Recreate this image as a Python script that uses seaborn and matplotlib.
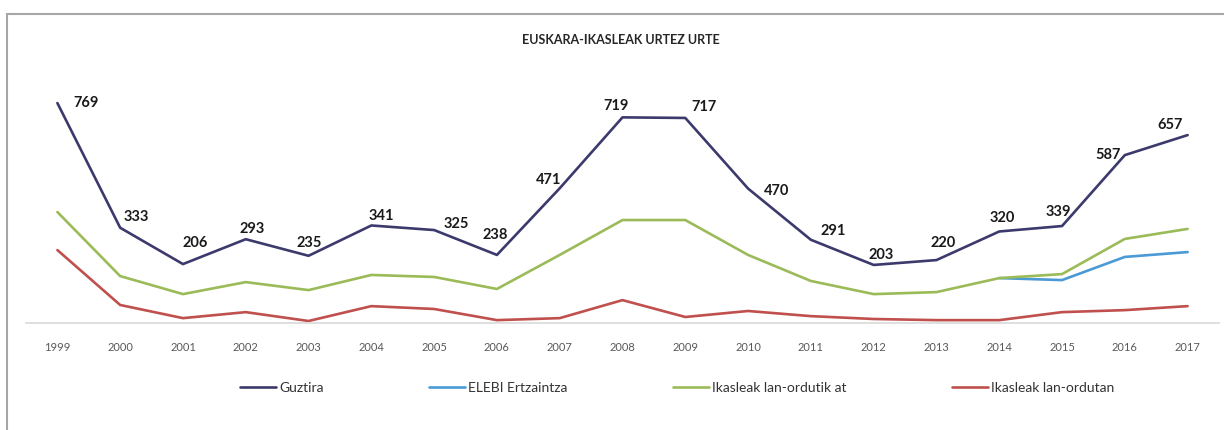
import numpy as np
import pandas as pd
import matplotlib
matplotlib.use('Agg')
import matplotlib.pyplot as plt
from matplotlib.patches import Rectangle
import seaborn as sns

years = list(range(1999, 2018))
guztira = [769, 333, 206, 293, 235, 341, 325, 238, 471, 719, 717, 470, 291, 203, 220, 320, 339, 587, 657]
elebi = [np.nan] * 15 + [157, 150, 231, 248]
lan_ordutik_at = [388, 164, 101, 143, 115, 168, 161, 119, 238, 360, 360, 238, 147, 101, 108, 157, 171, 294, 329]
lan_ordutan = [255, 63, 17, 38, 7, 59, 49, 10, 17, 80, 21, 42, 24, 14, 10, 10, 38, 45, 59]

series_names = ['Guztira', 'ELEBI Ertzaintza', 'Ikasleak lan-ordutik at', 'Ikasleak lan-ordutan']
colors = ['#3c3a6c', '#4a9ad6', '#9bbb59', '#c0504d']

# label offsets (pixels) for the Guztira data labels
label_dx = [29, 16, 12, 6, 1, 10, 22, -2, -11, -6, 19, 28, 22, 8, 7, 3, -4, -17, -18]
label_dy = [0, 11, 21, 10, 13, 9, 6, 20, 8, 11, 11, -2, 9, 10, 17, 13, 14, 0, 10]

frames = []
for name, vals in zip(series_names, [guztira, elebi, lan_ordutik_at, lan_ordutan]):
    frames.append(pd.DataFrame({'urtea': years, 'kopurua': vals, 'saila': name}))
df = pd.concat(frames).dropna()

sns.set_style('white')
plt.rcParams['font.family'] = ['Lato', 'DejaVu Sans']

fig = plt.figure(figsize=(12.24, 4.30), dpi=100)
ax = fig.add_axes([26 / 1224, 107 / 430, (1219 - 26) / 1224, (323 - 65.6) / 430])

sns.lineplot(data=df, x='urtea', y='kopurua', hue='saila', hue_order=series_names,
             palette=colors, linewidth=1.9, ax=ax, legend=True)

for x, v, dx, dy in zip(years, guztira, label_dx, label_dy):
    ax.annotate(str(v), (x, v), xytext=(dx, dy), textcoords='offset pixels',
                ha='center', va='center', fontsize=10.5, fontweight='bold',
                color='#1a1a1a', annotation_clip=False)

ax.set_xlim(1998.5, 2017.5)
ax.set_ylim(0, 900)
ax.set_xticks(years)
ax.set_xticklabels([str(y) for y in years], fontsize=8, color='#595959')
ax.set_yticks([])
ax.set_xlabel('')
ax.set_ylabel('')
ax.tick_params(axis='x', length=0, pad=14)
for s in ['top', 'right', 'left']:
    ax.spines[s].set_visible(False)
ax.spines['bottom'].set_color('#d9d9d9')
ax.spines['bottom'].set_linewidth(1.2)

handles, labels = ax.get_legend_handles_labels()
ax.legend(handles, labels, loc='center', bbox_to_anchor=(677 / 1224, 42 / 430),
          bbox_transform=fig.transFigure, ncol=4, frameon=False, fontsize=10,
          handlelength=2.6, handletextpad=0.2, columnspacing=7.6, labelcolor='#333333')

fig.text(621 / 1224, 1 - 40 / 430, 'EUSKARA-IKASLEAK URTEZ URTE', ha='center', va='center',
         fontsize=9, fontweight='bold', color='#262626')

fig.patches.append(Rectangle((7 / 1224, -0.05), 1.0, 1 - 14 / 430 + 0.05, transform=fig.transFigure,
                             fill=False, edgecolor='#a6a6a6', linewidth=1.5))

fig.savefig('out.png', dpi=100)
